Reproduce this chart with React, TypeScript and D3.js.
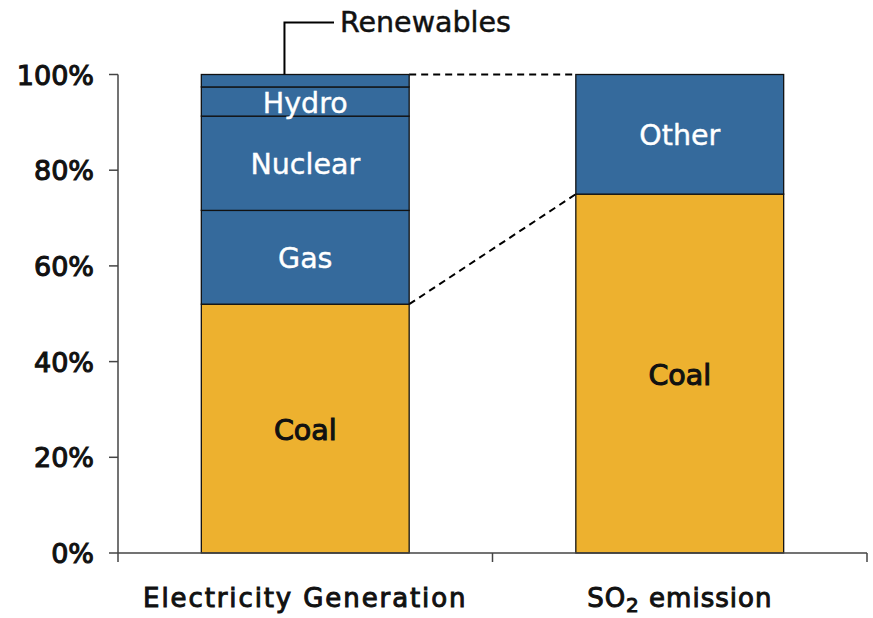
import React from "react";
import * as d3 from "d3";

const categories = ["Electricity Generation", "SO2 emission"];
const elecSegments = ["Coal", "Gas", "Nuclear", "Hydro", "Renewables"];
const elecValues = [52, 19.6, 19.7, 6.1, 2.6];
const so2Segments = ["Coal", "Other"];
const so2Values = [75, 25];
const yTicks = [0, 20, 40, 60, 80, 100];

const W = 873;
const H = 618;
const FONT = "'DejaVu Sans', sans-serif";
const BLUE = "#356a9c";
const GOLD = "#edb12f";

function stack(names: string[], values: number[]) {
  let acc = 0;
  return names.map((n, i) => {
    const s = { name: n, y0: acc, y1: acc + values[i] };
    acc += values[i];
    return s;
  });
}

export default function App() {
  const x = d3.scaleBand<string>().domain(categories).range([118, 867]).paddingInner(0.445).paddingOuter(0.2225);
  const y = d3.scaleLinear().domain([0, 100]).range([553, 74.5]);
  const bw = x.bandwidth();
  const stacks = [stack(elecSegments, elecValues), stack(so2Segments, so2Values)];

  const x1L = x(categories[0])!;
  const x1R = x1L + bw;
  const x2L = x(categories[1])!;
  const coalTop1 = y(elecValues[0]);
  const coalTop2 = y(so2Values[0]);

  const renewables = stacks[0][4];
  const leaderX = x1L + bw * 0.4;

  return (
    <svg width={W} height={H} style={{ position: "absolute", left: 0, top: 0, background: "#fff" }}>
      {/* dashed connectors */}
      <line x1={x1R} y1={y(100)} x2={x2L} y2={y(100)} stroke="#000" strokeWidth={2} strokeDasharray="7,5" />
      <line x1={x1R} y1={coalTop1} x2={x2L} y2={coalTop2} stroke="#000" strokeWidth={2} strokeDasharray="7,5" />

      {stacks.map((segs, ci) => (
        <g key={ci}>
          {segs.map((s) => (
            <rect
              key={s.name}
              x={x(categories[ci])}
              y={y(s.y1)}
              width={bw}
              height={y(s.y0) - y(s.y1)}
              fill={s.name === "Coal" ? GOLD : BLUE}
              stroke="#111"
              strokeWidth={1.3}
            />
          ))}
          {segs
            .filter((s) => s.name !== "Renewables")
            .map((s) => (
              <text
                key={s.name + "t"}
                x={x(categories[ci])! + bw / 2}
                y={(y(s.y0) + y(s.y1)) / 2 + 11}
                textAnchor="middle"
                fontFamily={FONT}
                fontSize={28.5}
                fill={s.name === "Coal" ? "#111" : "#fff"}
                stroke={s.name === "Coal" ? "#111" : "#fff"}
                strokeWidth={s.name === "Coal" ? 1.1 : 0.4}
              >
                {s.name}
              </text>
            ))}
        </g>
      ))}

      {/* Renewables leader */}
      <polyline
        points={`${leaderX},${y(renewables.y1)} ${leaderX},22.5 334,22.5`}
        fill="none"
        stroke="#000"
        strokeWidth={2}
      />
      <text x={340} y={32} fontFamily={FONT} fontSize={28.5} fill="#111" stroke="#111" strokeWidth={0.5}>
        {renewables.name}
      </text>

      {/* y axis */}
      <line x1={118} y1={y(0)} x2={118} y2={y(100)} stroke="#444" strokeWidth={1.5} />
      {yTicks.map((t) => (
        <g key={t}>
          <line x1={109} y1={y(t)} x2={118} y2={y(t)} stroke="#444" strokeWidth={1.5} />
          <text
            x={94}
            y={y(t) + 10}
            textAnchor="end"
            fontFamily={FONT}
            fontSize={27}
            fill="#111"
            stroke="#111"
            strokeWidth={1.1}
          >
            {t}%
          </text>
        </g>
      ))}

      {/* x axis */}
      <line x1={118} y1={y(0)} x2={867} y2={y(0)} stroke="#444" strokeWidth={1.5} />
      {[118, (118 + 867) / 2, 867].map((v, i) => (
        <line key={i} x1={v} y1={y(0)} x2={v} y2={y(0) + 9} stroke="#444" strokeWidth={1.5} />
      ))}
      <text
        x={x(categories[0])! + bw / 2}
        y={607}
        textAnchor="middle"
        fontFamily={FONT}
        fontSize={26}
        letterSpacing={1.9}
        fill="#111"
        stroke="#111"
        strokeWidth={1}
      >
        {categories[0]}
      </text>
      <text
        x={x(categories[1])! + bw / 2}
        y={607}
        textAnchor="middle"
        fontFamily={FONT}
        fontSize={26}
        letterSpacing={1}
        fill="#111"
        stroke="#111"
        strokeWidth={1}
      >
        SO<tspan fontSize={20} dy={5}>2</tspan>
        <tspan dy={-5}> emission</tspan>
      </text>
    </svg>
  );
}
